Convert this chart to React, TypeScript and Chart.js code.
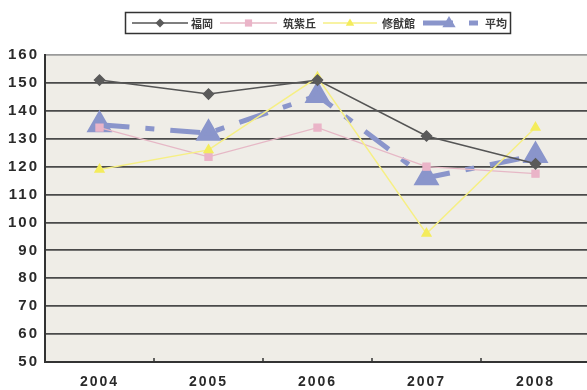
import React, { useEffect, useRef } from "react";
import { Chart, registerables } from "chart.js";

Chart.register(...registerables);

const years = ["2004", "2005", "2006", "2007", "2008"];
const fukuoka = [151, 146, 151, 131, 121];
const chikushigaoka = [134, 123.5, 134, 120, 117.5];
const shuyukan = [119, 126, 152, 96, 134];
const average = [135, 132, 145.5, 116, 124];
const seriesLabels = ["福岡", "筑紫丘", "修猷館", "平均"];
const yMin = 50;
const yMax = 160;
const yStep = 10;

function drawMarker(ctx: CanvasRenderingContext2D, style: string, x: number, y: number, r: number, color: string) {
  ctx.save();
  ctx.fillStyle = color;
  ctx.beginPath();
  if (style === "rectRot") {
    ctx.moveTo(x, y - r);
    ctx.lineTo(x + r, y);
    ctx.lineTo(x, y + r);
    ctx.lineTo(x - r, y);
  } else if (style === "rect") {
    ctx.rect(x - r * 0.8, y - r * 0.8, r * 1.6, r * 1.6);
  } else {
    ctx.moveTo(x, y - r);
    ctx.lineTo(x + r * 0.95, y + r * 0.6);
    ctx.lineTo(x - r * 0.95, y + r * 0.6);
  }
  ctx.closePath();
  ctx.fill();
  ctx.restore();
}

const decorPlugin = {
  id: "decor",
  beforeDraw(chart: any) {
    const { ctx, chartArea } = chart;
    ctx.save();
    ctx.fillStyle = "#efede7";
    ctx.fillRect(chartArea.left, chartArea.top, chartArea.right - chartArea.left, chartArea.bottom - chartArea.top);
    ctx.restore();
    (ctx as any).letterSpacing = "2px";
  },
  afterDraw(chart: any) {
    const { ctx, chartArea } = chart;
    (ctx as any).letterSpacing = "0px";
    const xs = chart.scales.x;
    ctx.save();
    ctx.strokeStyle = "#333";
    ctx.lineWidth = 1.5;
    for (let i = 1; i < years.length; i++) {
      const px = (xs.getPixelForValue(i - 1) + xs.getPixelForValue(i)) / 2;
      ctx.beginPath();
      ctx.moveTo(px, chartArea.bottom);
      ctx.lineTo(px, chartArea.bottom - 4);
      ctx.stroke();
    }
    ctx.restore();

    // legend
    ctx.save();
    ctx.fillStyle = "#ffffff";
    ctx.fillRect(125.5, 12.5, 385, 21);
    ctx.strokeStyle = "#333";
    ctx.lineWidth = 1.5;
    ctx.strokeRect(125.5, 12.5, 385, 21);
    const items = [
      { x0: 132, x1: 188, tx: 191 },
      { x0: 220, x1: 277, tx: 283 },
      { x0: 323, x1: 377, tx: 382 },
      { x0: 423, x1: 480, tx: 485 },
    ];
    const ly = 23;
    chart.data.datasets.forEach((ds: any, i: number) => {
      const it = items[i];
      ctx.save();
      ctx.strokeStyle = ds.borderColor;
      ctx.lineWidth = ds.borderWidth;
      ctx.setLineDash(ds.borderDash || []);
      ctx.beginPath();
      ctx.moveTo(it.x0, ly);
      ctx.lineTo(it.x1, ly);
      ctx.stroke();
      ctx.restore();
      const mx = i === 3 ? 449 : (it.x0 + it.x1) / 2;
      drawMarker(ctx, ds.pointStyle, mx, ly, i === 3 ? 7 : 4.5, ds.pointBackgroundColor);
      ctx.fillStyle = "#3a3a3a";
      ctx.font = "bold 11px 'Noto Sans CJK JP'";
      ctx.textBaseline = "middle";
      ctx.textAlign = "left";
      ctx.fillText(ds.label, it.tx, ly + 1);
    });
    ctx.restore();
  },
};

export default function App() {
  const ref = useRef<HTMLCanvasElement>(null);
  useEffect(() => {
    document.body.style.margin = "0";
    const chart = new Chart(ref.current!, {
      type: "line",
      data: {
        labels: years,
        datasets: [
          {
            label: seriesLabels[0],
            data: fukuoka,
            borderColor: "#555555",
            borderWidth: 1.5,
            pointStyle: "rectRot",
            pointRadius: 5,
            pointBackgroundColor: "#5a5a5a",
            pointBorderColor: "#5a5a5a",
            order: 1,
          },
          {
            label: seriesLabels[1],
            data: chikushigaoka,
            borderColor: "#e6b8c6",
            borderWidth: 1.3,
            pointStyle: "rect",
            pointRadius: 5,
            pointBackgroundColor: "#eab4c8",
            pointBorderColor: "#eab4c8",
            order: 3,
          },
          {
            label: seriesLabels[2],
            data: shuyukan,
            borderColor: "#f6ef84",
            borderWidth: 1.5,
            pointStyle: "triangle",
            pointRadius: 5,
            pointBackgroundColor: "#f4ec5c",
            pointBorderColor: "#f4ec5c",
            order: 2,
          },
          {
            label: seriesLabels[3],
            data: average,
            borderColor: "#8a95cb",
            borderWidth: 5,
            borderDash: [30, 16, 9, 16],
            pointStyle: "triangle",
            pointRadius: 10,
            pointBackgroundColor: "#8a95cb",
            pointBorderColor: "#8a95cb",
            order: 4,
          },
        ],
      },
      options: {
        animation: false,
        responsive: false,
        maintainAspectRatio: false,
        layout: { autoPadding: false, padding: { top: 55, right: 0, left: 0, bottom: 0 } },
        plugins: { legend: { display: false }, tooltip: { enabled: false } },
        elements: { line: { tension: 0 } },
        scales: {
          x: {
            offset: true,
            grid: { display: false },
            border: { display: true, color: "#333", width: 2 },
            ticks: { color: "#2a2a2a", font: { family: "Liberation Sans", size: 14, weight: "bold" }, padding: 4 },
            afterFit(s: any) {
              s.height = 28;
              s.paddingLeft = 0;
              s.paddingRight = 0;
            },
          },
          y: {
            min: yMin,
            max: yMax,
            ticks: {
              stepSize: yStep,
              color: "#2a2a2a",
              font: { family: "Liberation Sans", size: 15, weight: "bold" },
              padding: 6,
            },
            grid: {
              drawTicks: false,
              lineWidth: 1.8,
              color: (c: any) => (c.tick && c.tick.value === yMax ? "#9a9a9a" : "#4a4a4a"),
            },
            border: { display: true, color: "#333", width: 2 },
            afterFit(s: any) {
              s.width = 45;
              s.paddingTop = 0;
              s.paddingBottom = 0;
            },
          },
        },
      },
      plugins: [decorPlugin],
    });
    return () => chart.destroy();
  }, []);
  return (
    <div style={{ position: "fixed", left: 0, top: 0, width: 587, height: 390, overflow: "hidden", background: "#fff" }}>
      <canvas ref={ref} width={590} height={390} style={{ width: 590, height: 390, display: "block" }} />
    </div>
  );
}
